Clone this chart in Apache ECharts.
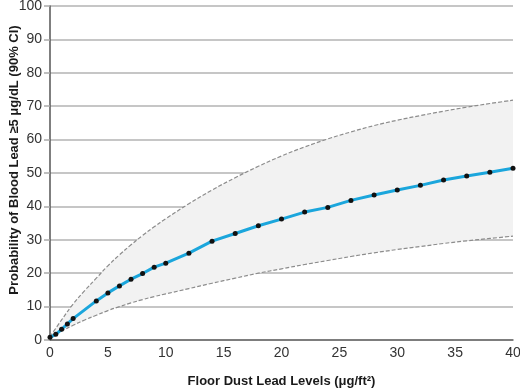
<!DOCTYPE html>
<html>
<head>
<meta charset="utf-8">
<script src="https://cdn.jsdelivr.net/npm/echarts@6/dist/echarts.min.js"></script>
<style>
  html, body { margin: 0; padding: 0; background: #fff; }
  #chart { width: 520px; height: 390px; }
</style>
</head>
<body>
<div id="chart"></div>
<script>
// probability estimates (dots)
var dustX = [0, 0.5, 1, 1.5, 2, 4, 5, 6, 7, 8, 9, 10, 12, 14, 16, 18, 20, 22, 24, 26, 28, 30, 32, 34, 36, 38, 40];
var probY = [0.8, 1.7, 3.2, 4.8, 6.4, 11.7, 14.1, 16.2, 18.2, 19.9, 21.8, 23.0, 26.0, 29.6, 31.9, 34.2, 36.2, 38.3, 39.7, 41.8, 43.4, 44.9, 46.3, 47.9, 49.1, 50.2, 51.4];

// 90% confidence band
var ciX = [0, 1, 2, 3, 4, 5, 6, 7, 8, 9, 10, 12, 14, 16, 18, 20, 22, 24, 26, 28, 30, 32, 34, 36, 38, 40];
var ciUpper = [1, 6, 10.8, 14.8, 18.5, 22.2, 25.5, 28.5, 31.3, 33.9, 36.3, 40.8, 44.9, 48.6, 52.0, 55.1, 57.8, 60.2, 62.3, 64.2, 65.8, 67.2, 68.5, 69.7, 70.8, 71.8];
var ciLower = [1, 2.7, 4.4, 6.0, 7.4, 8.8, 10.0, 11.1, 12.1, 13.0, 13.8, 15.4, 17.0, 18.5, 20.0, 21.3, 22.6, 23.8, 25.0, 26.1, 27.1, 28.0, 28.9, 29.7, 30.4, 31.1];

var yTitle = "Probability of Blood Lead ≥5 μg/dL (90% CI)";

var chart = echarts.init(document.getElementById("chart"));

var font = "'Liberation Sans', Arial, Helvetica, sans-serif";

function pairs(xs, ys) {
  var out = [];
  for (var i = 0; i < xs.length; i++) out.push([xs[i], ys[i]]);
  return out;
}

var option = {
  animation: false,
  grid: {
    left: 50,
    right: 7,
    top: 6,
    bottom: 50,
    containLabel: false,
    outerBoundsMode: "none"
  },
  // y title sits a bit below the axis middle in the original
  graphic: [
    {
      type: "text",
      x: 14,
      y: 160,
      rotation: Math.PI / 2,
      style: {
        text: yTitle,
        fontFamily: font,
        fontWeight: "bold",
        fontSize: 13,
        fill: "#1a1a1a",
        align: "center",
        verticalAlign: "middle"
      }
    }
  ],
  xAxis: {
    type: "value",
    min: 0,
    max: 40,
    interval: 5,
    name: "Floor Dust Lead Levels (μg/ft²)",
    nameLocation: "middle",
    nameGap: 35,
    nameTextStyle: {
      fontFamily: font,
      fontWeight: "bold",
      fontSize: 13,
      color: "#1a1a1a"
    },
    axisLine: {
      show: true,
      lineStyle: { color: "#666", width: 1.5 }
    },
    axisTick: { show: false },
    splitLine: { show: false },
    axisLabel: {
      fontFamily: font,
      fontSize: 14,
      color: "#333",
      margin: 6
    }
  },
  yAxis: {
    type: "value",
    min: 0,
    max: 100,
    interval: 10,
    axisLine: {
      show: true,
      lineStyle: { color: "#555", width: 1.5 }
    },
    axisTick: {
      show: true,
      length: 6,
      lineStyle: { color: "#aaa", width: 1.5 }
    },
    splitLine: {
      show: true,
      lineStyle: { color: "#b3b3b3", width: 1.5 }
    },
    axisLabel: {
      fontFamily: font,
      fontSize: 14,
      color: "#333",
      margin: 8
    }
  },
  series: [
    {
      // shaded band between the CI limits
      type: "custom",
      z: 1,
      silent: true,
      data: [[0, 0]],
      renderItem: function (params, api) {
        var pts = [];
        for (var i = 0; i < ciX.length; i++) pts.push(api.coord([ciX[i], ciUpper[i]]));
        for (var j = ciX.length - 1; j >= 0; j--) pts.push(api.coord([ciX[j], ciLower[j]]));
        return {
          type: "polygon",
          shape: { points: pts },
          style: { fill: "#f2f2f2" }
        };
      }
    },
    {
      type: "line",
      z: 2,
      data: pairs(ciX, ciUpper),
      smooth: 0.4,
      showSymbol: false,
      lineStyle: { color: "#8c8c8c", width: 1.2, type: [4, 2] }
    },
    {
      type: "line",
      z: 2,
      data: pairs(ciX, ciLower),
      smooth: 0.4,
      showSymbol: false,
      lineStyle: { color: "#8c8c8c", width: 1.2, type: [4, 2] }
    },
    {
      type: "line",
      z: 3,
      data: pairs(dustX, probY),
      symbol: "circle",
      symbolSize: 5,
      itemStyle: { color: "#111" },
      lineStyle: { color: "#1ba6dc", width: 3 }
    }
  ]
};

chart.setOption(option, true);
</script>
</body>
</html>
